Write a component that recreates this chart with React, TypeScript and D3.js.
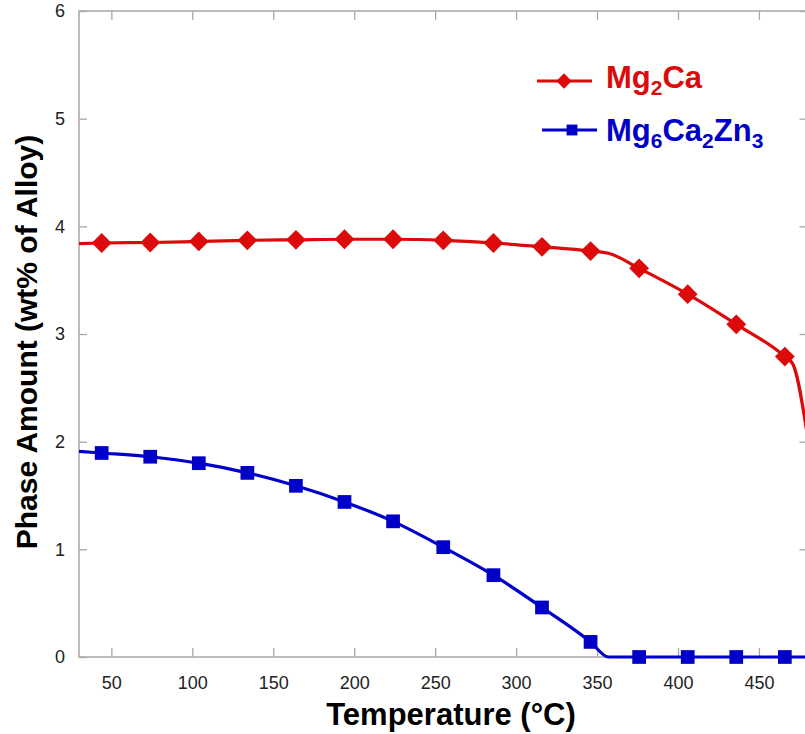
import React, { useRef, useEffect } from 'react';
import * as d3 from 'd3';

// marker temperatures (°C) and phase amounts (wt% of alloy)
const temps = [44, 74, 104, 134, 164, 194, 224, 255, 286, 316, 346, 376, 406, 436, 466];
const mg2Ca = [3.845, 3.85, 3.86, 3.87, 3.875, 3.88, 3.88, 3.87, 3.845, 3.81, 3.77, 3.61, 3.37, 3.09, 2.79];
const mg6Ca2Zn3 = [1.895, 1.86, 1.8, 1.71, 1.59, 1.44, 1.26, 1.02, 0.76, 0.46, 0.14, 0, 0, 0, 0];

// extra curve points between markers (no marker drawn)
const mg2CaExtra: [number, number][] = [[30, 3.84], [357, 3.75], [471, 2.72], [480, 2.05]];
const mg6Ca2Zn3Extra: [number, number][] = [[30, 1.91], [357, 0], [480, 0]];

const xTicks = [50, 100, 150, 200, 250, 300, 350, 400, 450];
const yTicks = [0, 1, 2, 3, 4, 5, 6];

const RED = '#dc0a0a';
const BLUE = '#0000c8';
const AXIS = '#a8a8a8';
const FONT = '"Liberation Sans", Arial, Helvetica, sans-serif';

const W = 805;
const H = 734;

const App = () => {
  const svgRef = useRef<SVGSVGElement>(null);

  useEffect(() => {
    const svg = d3.select(svgRef.current);
    svg.selectAll('*').remove();

    const margin = { top: 11, left: 79, bottom: 77 };
    const x = d3.scaleLinear().domain([30, 480]).range([margin.left, 807.5]);
    const y = d3.scaleLinear().domain([0, 6]).range([H - margin.bottom, margin.top]);

    // frame
    svg.append('rect')
      .attr('x', x(30)).attr('y', y(6))
      .attr('width', x(480) - x(30)).attr('height', y(0) - y(6))
      .attr('fill', 'none').attr('stroke', AXIS).attr('stroke-width', 1.5);

    const styleAxis = (g: any) => {
      g.select('.domain').remove();
      g.selectAll('line').attr('stroke', AXIS).attr('stroke-width', 1.3);
      g.selectAll('text').attr('fill', '#222').style('font-family', FONT).style('font-size', '18px');
    };

    svg.append('g')
      .attr('transform', `translate(0,${y(0)})`)
      .call(d3.axisBottom(x).tickValues(xTicks).tickSize(-9).tickSizeOuter(0).tickPadding(19))
      .call(styleAxis);

    svg.append('g')
      .attr('transform', `translate(0,${y(6)})`)
      .call(d3.axisTop(x).tickValues(xTicks).tickSize(-9).tickSizeOuter(0).tickFormat(() => ''))
      .call(styleAxis);

    svg.append('g')
      .attr('transform', `translate(${x(30)},0)`)
      .call(d3.axisLeft(y).tickValues(yTicks).tickSize(-8).tickSizeOuter(0).tickPadding(14).tickFormat(d3.format('d')))
      .call(styleAxis);

    svg.append('g')
      .attr('transform', `translate(${x(480)},0)`)
      .call(d3.axisRight(y).tickValues(yTicks).tickSize(-8).tickSizeOuter(0).tickFormat(() => ''))
      .call(styleAxis);

    // axis titles
    svg.append('text')
      .attr('x', 451).attr('y', 725)
      .attr('text-anchor', 'middle')
      .style('font-family', FONT).style('font-size', '31px').style('font-weight', 'bold')
      .attr('fill', '#000')
      .text('Temperature (°C)');

    svg.append('text')
      .attr('transform', `translate(37,${342}) rotate(-90)`)
      .attr('text-anchor', 'middle')
      .style('font-family', FONT).style('font-size', '30px').style('font-weight', 'bold')
      .attr('fill', '#000')
      .text('Phase Amount (wt% of Alloy)');

    svg.append('clipPath').attr('id', 'plot-clip')
      .append('rect')
      .attr('x', x(30)).attr('y', y(6) - 20)
      .attr('width', x(480) - x(30)).attr('height', y(0) - y(6) + 40);

    const line = d3.line<[number, number]>()
      .x(d => x(d[0]))
      .y(d => y(d[1]))
      .curve(d3.curveMonotoneX);

    const series = [
      { name: 'Mg2Ca', values: mg2Ca, extra: mg2CaExtra, color: RED, symbol: d3.symbolDiamond2, size: 250 },
      { name: 'Mg6Ca2Zn3', values: mg6Ca2Zn3, extra: mg6Ca2Zn3Extra, color: BLUE, symbol: d3.symbolSquare2, size: 240 },
    ];

    series.forEach(s => {
      const pts: [number, number][] = temps.map((t, i) => [t, s.values[i]] as [number, number])
        .concat(s.extra)
        .sort((a, b) => a[0] - b[0]);

      svg.append('path')
        .attr('clip-path', 'url(#plot-clip)')
        .attr('d', line(pts))
        .attr('fill', 'none')
        .attr('stroke', s.color)
        .attr('stroke-width', 3.2)
        .attr('stroke-linejoin', 'round');

      svg.append('g')
        .selectAll('path')
        .data(temps)
        .join('path')
        .attr('transform', (t, i) => `translate(${x(t)},${y(s.values[i])})`)
        .attr('d', d3.symbol().type(s.symbol).size(s.size)())
        .attr('fill', s.color);
    });

    // legend
    const legend = [
      { label: [['Mg', ''], ['2', 'sub'], ['Ca', '']], color: RED, symbol: d3.symbolDiamond2, size: 150, x0: 537, x1: 592, cx: 564, cy: 81, ty: 88 },
      { label: [['Mg', ''], ['6', 'sub'], ['Ca', ''], ['2', 'sub'], ['Zn', ''], ['3', 'sub']], color: BLUE, symbol: d3.symbolSquare2, size: 150, x0: 542, x1: 597, cx: 572, cy: 130, ty: 141 },
    ];

    legend.forEach(l => {
      svg.append('line')
        .attr('x1', l.x0).attr('x2', l.x1).attr('y1', l.cy).attr('y2', l.cy)
        .attr('stroke', l.color).attr('stroke-width', 3.2);
      svg.append('path')
        .attr('transform', `translate(${l.cx},${l.cy})`)
        .attr('d', d3.symbol().type(l.symbol).size(l.size)())
        .attr('fill', l.color);
      const text = svg.append('text')
        .attr('x', 606).attr('y', l.ty)
        .attr('fill', l.color)
        .style('font-family', FONT).style('font-size', '31px').style('font-weight', 'bold');
      let shift = 0;
      l.label.forEach(([str, kind]) => {
        const target = kind === 'sub' ? 7 : 0;
        text.append('tspan')
          .attr('dy', target - shift)
          .style('font-size', kind === 'sub' ? '21px' : '31px')
          .text(str);
        shift = target;
      });
    });
  }, []);

  return (
    <svg
      ref={svgRef}
      width={W}
      height={H}
      style={{ position: 'absolute', left: 0, top: 0, background: '#fff' }}
    />
  );
};

export default App;
